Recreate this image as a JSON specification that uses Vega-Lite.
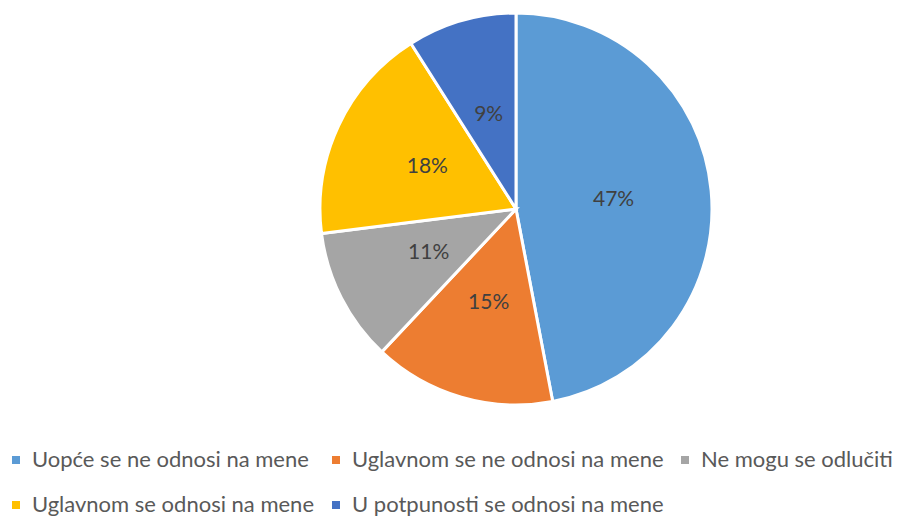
{
  "$schema": "https://vega.github.io/schema/vega-lite/v6.json",
  "width": 792,
  "height": 392,
  "autosize": "none",
  "padding": {"left": 120, "top": 13, "right": 1, "bottom": 111},
  "background": "white",
  "config": {"view": {"stroke": null}},
  "data": {
    "values": [
      {"order": 1, "category": "Uopće se ne odnosi na mene", "value": 47, "label": "47%"},
      {"order": 2, "category": "Uglavnom se ne odnosi na mene", "value": 15, "label": "15%"},
      {"order": 3, "category": "Ne mogu se odlučiti", "value": 11, "label": "11%"},
      {"order": 4, "category": "Uglavnom se odnosi na mene", "value": 18, "label": "18%"},
      {"order": 5, "category": "U potpunosti se odnosi na mene", "value": 9, "label": "9%"}
    ]
  },
  "encoding": {
    "theta": {"field": "value", "type": "quantitative", "stack": true},
    "order": {"field": "order", "type": "quantitative"},
    "color": {
      "field": "category",
      "type": "nominal",
      "sort": ["Uopće se ne odnosi na mene", "Uglavnom se ne odnosi na mene", "Ne mogu se odlučiti", "Uglavnom se odnosi na mene", "U potpunosti se odnosi na mene"],
      "scale": {
        "domain": ["Uopće se ne odnosi na mene", "Uglavnom se ne odnosi na mene", "Ne mogu se odlučiti", "Uglavnom se odnosi na mene", "U potpunosti se odnosi na mene"],
        "range": ["#5B9BD5", "#ED7D31", "#A5A5A5", "#FFC000", "#4472C4"]
      },
      "legend": {
        "title": null,
        "orient": "none",
        "legendX": -115,
        "legendY": 436,
        "direction": "horizontal",
        "columns": 3,
        "columnPadding": 10,
        "rowPadding": 23,
        "symbolType": "square",
        "symbolSize": 64,
        "symbolStrokeWidth": 0,
        "labelFont": "Lato",
        "labelFontSize": 22,
        "labelColor": "#595959",
        "labelOffset": 5,
        "labelLimit": 400
      }
    }
  },
  "layer": [
    {
      "mark": {"type": "arc", "outerRadius": 196, "stroke": "white", "strokeWidth": 3}
    },
    {
      "mark": {"type": "text", "radius": 98, "font": "Lato", "fontSize": 21, "fill": "#404040"},
      "encoding": {
        "text": {"field": "label"},
        "color": {"value": "#404040"}
      }
    }
  ]
}
